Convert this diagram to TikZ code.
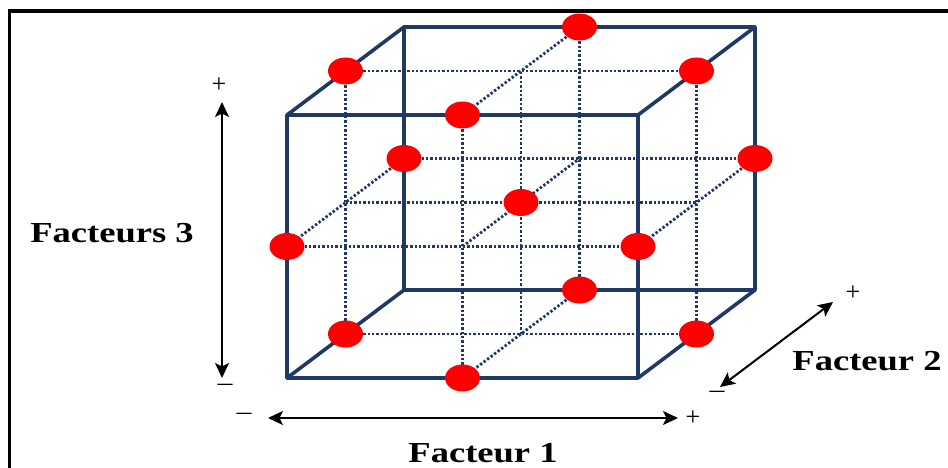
\documentclass[tikz,border=0pt]{standalone}
\usepackage{fontspec}
\usepackage{graphicx}
\setmainfont{Liberation Serif}
\usetikzlibrary{arrows.meta,shapes.geometric}
\definecolor{navy}{RGB}{31,56,100}
\definecolor{dotred}{RGB}{255,0,0}
\newcommand{\widetxt}[1]{\scalebox{1.26}[1]{#1}}
\begin{document}
\begin{tikzpicture}[x=1pt,y=-1pt,
  cubeedge/.style={draw=navy,line width=3.6pt,line join=round,line cap=round},
  gridline/.style={draw=navy,line width=2.8pt,dash pattern=on 2.4pt off 2pt},
  reddot/.style={ellipse,fill=dotred,draw=none,minimum width=35pt,minimum height=27pt,inner sep=0pt},
  lab/.style={font=\fontsize{29}{30}\bfseries\selectfont,inner sep=0pt,anchor=base},
  pm/.style={font=\fontsize{26}{26}\selectfont,inner sep=0pt},
  arr/.style={line width=2pt,{Stealth[length=15pt,width=14pt,inset=3.5pt]}-{Stealth[length=15pt,width=14pt,inset=3.5pt]}}]
\useasboundingbox (0,0) rectangle (948,468);
% frame
\draw[line width=3.8pt] (948,11) -- (9.5,11) -- (9.5,468);
% lattice coordinates
\foreach \a in {0,1,2}{
  \foreach \b in {0,1,2}{
    \foreach \c in {0,1,2}{
      \coordinate (p\a\b\c) at ({287+\a*175.5+\b*58.5},{378-\c*131.5-\b*44});
}}}
% dotted grid lines
\foreach \u/\v in {1/0,1/2,0/1,2/1,1/1}{
  \draw[gridline] (p0\u\v) -- (p2\u\v);
  \draw[gridline] (p\u\v0) -- (p\u\v2);
  \draw[gridline] (p\u0\v) -- (p\u2\v);
}
% cube edges
\draw[cubeedge] (p000) -- (p200) -- (p202) -- (p002) -- cycle;
\draw[cubeedge] (p020) -- (p220) -- (p222) -- (p022) -- cycle;
\draw[cubeedge] (p000) -- (p020);
\draw[cubeedge] (p200) -- (p220);
\draw[cubeedge] (p202) -- (p222);
\draw[cubeedge] (p002) -- (p022);
% design points
\foreach \n in {100,102,120,122,010,012,210,212,001,021,201,221,111}{
  \node[reddot] (d\n) at (p\n) {};
}
% axes
\coordinate (a3t) at (222,102);
\coordinate (a3b) at (222,378);
\coordinate (a1l) at (268,418);
\coordinate (a1r) at (678,418);
\coordinate (a2l) at (720,387);
\coordinate (a2r) at (833,302);
\draw[arr] (a3b) -- (a3t);
\draw[arr] (a1l) -- (a1r);
\draw[arr] (a2l) -- (a2r);
% labels
\node[lab] (f3) at (112,242) {\widetxt{Facteurs 3}};
\node[lab] (f1) at (483,462) {\widetxt{Facteur 1}};
\node[lab] (f2) at (867,370) {\widetxt{Facteur 2}};
\node[pm] (f3p) at (219,85) {+};
\node[pm] (f3m) at (225,389) {\widetxt{−}};
\node[pm] (f1m) at (244,418) {\widetxt{−}};
\node[pm] (f1p) at (693,418) {+};
\node[pm] (f2p) at (853,293) {+};
\node[pm] (f2m) at (717,396) {\widetxt{−}};
\end{tikzpicture}
\end{document}
